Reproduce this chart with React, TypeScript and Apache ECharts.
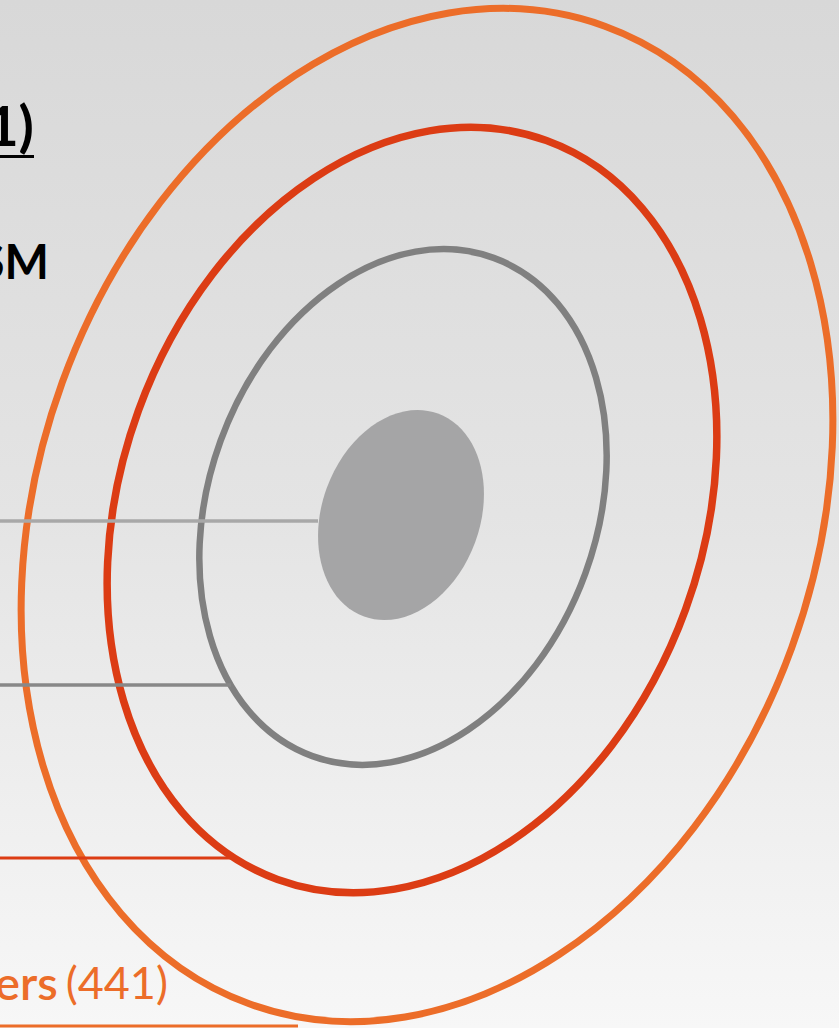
import React, { useEffect, useRef } from "react";
import * as echarts from "echarts";

// Rings of the target diagram, outer to inner: [centreX, centreY, radiusX, radiusY]
const ringNames = ["outer", "middle", "inner", "core"];
const ringCx = [427, 412, 403, 401];
const ringCy = [515, 510, 507, 515];
const ringRx = [388, 291, 194, 79];
const ringRy = [520, 393, 265, 108];
const ringColors = ["#EC6D29", "#DC3C14", "#808080", "#A5A5A6"];
const ringFilled = [false, false, false, true];
const ringTiltDeg = 20;

// Leader lines: y position and end x
const leaderY = [521, 685, 858, 1026];
const leaderEndX = [318, 231, 235, 298];
const leaderColors = ["#A8A8A8", "#888888", "#DC3C14", "#EC6D29"];

// Visible label fragments
const titleFragment = "1)";
const labelFragment = "SM";
const outerLabelName = "ers";
const outerLabelCount = "(441)";

const W = 839;
const H = 1028;

export default function App() {
  const ref = useRef<HTMLDivElement>(null);
  useEffect(() => {
    if (!ref.current) return;
    const chart = echarts.init(ref.current, null, { renderer: "svg" });
    const ringData = ringNames.map((n, i) => ({
      name: n,
      value: [ringCx[i], ringCy[i], ringRx[i], ringRy[i], i],
    }));
    const lineData = leaderY.map((y, i) => ({ value: [0, y, leaderEndX[i], i] }));
    const font = "Lato, 'Open Sans', sans-serif";
    const ringWidths = [7, 7.5, 6.5, 0];
    chart.setOption({
      animation: false,
      backgroundColor: {
        type: "linear",
        x: 0,
        y: 0,
        x2: 0,
        y2: 1,
        colorStops: [
          { offset: 0, color: "#d8d8d8" },
          { offset: 0.5, color: "#e4e4e4" },
          { offset: 1, color: "#f7f7f7" },
        ],
      },
      grid: { left: 0, right: 0, top: 0, bottom: 0 },
      xAxis: { type: "value", min: 0, max: W, show: false },
      yAxis: { type: "value", min: 0, max: H, inverse: true, show: false },
      series: [
        {
          type: "custom",
          z: 2,
          data: ringData,
          renderItem: (params: any, api: any) => {
            const p = api.coord([api.value(0), api.value(1)]);
            const s = api.size([api.value(2), api.value(3)]);
            const i = api.value(4);
            return {
              type: "ellipse",
              x: p[0],
              y: p[1],
              rotation: (-ringTiltDeg * Math.PI) / 180,
              shape: { cx: 0, cy: 0, rx: s[0], ry: s[1] },
              style: ringFilled[i]
                ? { fill: ringColors[i], stroke: null }
                : { fill: null, stroke: ringColors[i], lineWidth: ringWidths[i] },
            };
          },
        },
        {
          type: "custom",
          z: 3,
          data: lineData,
          renderItem: (params: any, api: any) => {
            const a = api.coord([api.value(0), api.value(1)]);
            const b = api.coord([api.value(2), api.value(1)]);
            const i = api.value(3);
            return {
              type: "line",
              shape: { x1: a[0], y1: a[1], x2: b[0], y2: b[1] },
              style: { stroke: leaderColors[i], lineWidth: i < 2 ? 3.5 : 3 },
            };
          },
        },
      ],
      graphic: [
        {
          type: "text",
          x: 34,
          y: 152,
          z: 10,
          style: {
            text: titleFragment,
            font: `bold 56px ${font}`,
            fill: "#000",
            align: "right",
            verticalAlign: "bottom",
          },
        },
        {
          type: "rect",
          z: 10,
          shape: { x: 0, y: 155, width: 34, height: 3 },
          style: { fill: "#000" },
        },
        {
          type: "text",
          x: 49,
          y: 284,
          z: 10,
          style: {
            text: labelFragment,
            font: `bold 47px ${font}`,
            fill: "#000",
            align: "right",
            verticalAlign: "bottom",
          },
        },
        {
          type: "text",
          x: 168,
          y: 1005,
          z: 10,
          style: {
            text: `{a|${outerLabelName}}{b|${outerLabelCount}}`,
            align: "right",
            verticalAlign: "bottom",
            rich: {
              a: { font: `600 47px ${font}`, fill: "#EC6D29", color: "#EC6D29", padding: [0, 8, 0, 0] },
              b: { font: `normal 45px ${font}`, fill: "#EC6D29", color: "#EC6D29" },
            },
          },
        },
      ],
    });
    return () => chart.dispose();
  }, []);
  return (
    <div
      ref={ref}
      style={{ position: "fixed", left: 0, top: 0, width: W, height: H }}
    />
  );
}
